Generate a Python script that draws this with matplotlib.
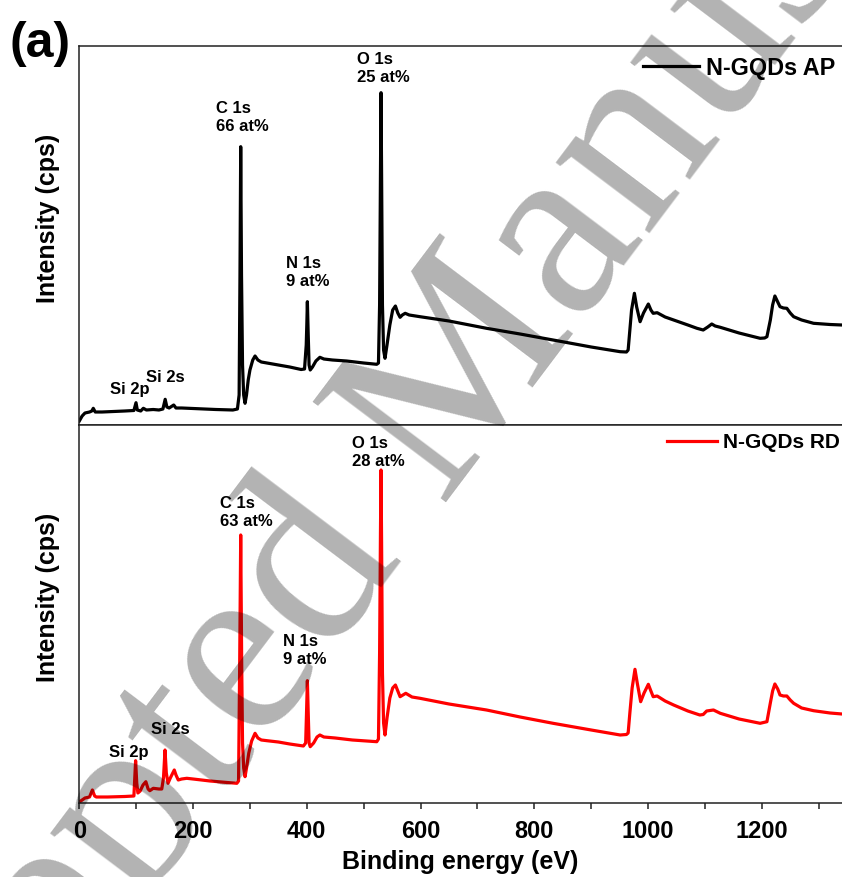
import matplotlib
matplotlib.use("Agg")
import matplotlib.pyplot as plt
from matplotlib.ticker import MultipleLocator

plt.rcParams['font.family'] = ['Liberation Sans', 'DejaVu Sans']
plt.rcParams['font.weight'] = 'bold'

# XPS survey spectrum, N-GQDs AP (binding energy in eV, intensity in arbitrary units)
ap_energy = [0, 5, 10, 18, 22, 24.6, 28, 40, 60, 80, 96, 99.7, 102, 108, 112.6, 118, 130, 140,
             147, 151, 154, 158, 166, 170, 180, 200, 240, 270, 278, 281, 282.5, 283.8, 285.2,
             287, 289, 291.4, 294, 297, 300, 305, 309, 314, 320, 330, 350, 370, 390, 396, 399,
             400, 401, 402.5, 404, 406, 410, 416, 423, 430, 445, 470, 500, 523, 526, 528, 529.5,
             530.5, 531.5, 533, 535, 537.5, 541, 546, 551, 555.8, 560, 564, 568, 573, 580, 599,
             650, 716, 775, 833, 900, 951, 962, 965, 968, 971, 976, 980, 986, 992, 1000.5, 1005,
             1009, 1016, 1030, 1045, 1070, 1086, 1097, 1105, 1112, 1118, 1127, 1160, 1197, 1205,
             1209, 1215, 1219, 1223, 1228, 1232, 1238, 1244, 1250, 1256, 1270, 1291, 1320, 1341]
ap_counts = [4, 9, 12, 13, 14, 16.7, 13, 13, 13.5, 14, 14.5, 22.3, 15, 14, 16.7, 15, 15.5, 15,
             16, 25.7, 18, 17, 20, 17, 17, 16.5, 15.5, 15, 16, 30, 150, 278.3, 150,
             60, 30, 21.7, 30, 45, 55, 65, 69, 65, 63, 62, 60, 58, 55.5, 56, 80,
             100, 123.3, 90, 60, 55, 58, 64, 67.7, 66, 65, 64, 62, 60.7, 62, 120, 250,
             332.3, 250, 120, 75, 66.7, 80, 100, 115, 119, 112, 107.7, 110, 111.7, 110, 108.3,
             104, 96.7, 91, 85, 78, 73.3, 73, 75, 95, 115, 131.7, 118, 103.3, 112, 121, 115,
             111.7, 112.3, 108, 105, 100, 96.7, 95, 98, 101, 99, 97.7, 92, 86.7, 87,
             88.3, 105, 120, 129, 123, 118.3, 117, 116.7, 112, 108.3, 105, 101.7, 100.5, 100]

# XPS survey spectrum, N-GQDs RD
rd_energy = [0, 5, 10, 18, 23, 27, 30, 50, 80, 96, 99, 101, 103, 107, 112, 117, 121, 124, 130,
             140, 145, 148, 150.7, 153, 156, 160, 167, 170, 174, 180, 189, 200, 230, 260, 277,
             280, 282, 283.8, 285.5, 287, 289, 291.4, 294, 298, 303, 309, 314, 320, 330, 350,
             370, 394, 398, 399.5, 401, 402.5, 404, 406, 412, 418, 423, 430, 450, 480, 523, 526,
             528, 529.5, 530.5, 531.5, 533, 535, 537.5, 541, 546, 551, 555.8, 560, 564, 569, 574,
             585, 599, 650, 716, 775, 833, 900, 951, 962, 965, 968, 972, 977, 981, 987, 993,
             1000.5, 1005, 1009, 1016, 1030, 1045, 1070, 1091, 1097, 1103, 1115, 1127, 1160,
             1197, 1209, 1215, 1219, 1223, 1228, 1232, 1238, 1244, 1250, 1256, 1270, 1291, 1320,
             1341]
rd_counts = [1, 3, 5, 6, 13, 7, 6, 6, 6.5, 7, 42.3, 20, 10, 12, 18, 21.3, 14, 12.3, 14.7,
             14, 14, 25, 53, 30, 19.7, 25, 33, 28, 23, 24, 24.7, 24, 22, 20.5, 19.7,
             22, 140, 268, 140, 60, 35, 26.3, 35, 50, 62, 69.7, 65, 63, 62.3, 61,
             59, 57, 60, 90, 122.3, 90, 60, 56.3, 60, 66, 68, 66, 65, 63, 61.3, 64,
             150, 270, 333, 260, 130, 80, 68, 85, 105, 115, 118, 112, 106.3, 108, 109.7,
             106, 104.7, 99, 93, 86, 79.7, 73, 68, 68.5, 70, 90, 115, 133.7, 120, 101.3, 110,
             118.7, 112, 106.3, 107, 102, 98, 92, 88, 88.5, 92, 93, 89.7, 84,
             79.7, 81.3, 100, 112, 119, 114, 108, 107, 107, 103, 99.7, 95, 92.3, 90,
             89]

# Peak labels: (text, energy of left edge, intensity of block centre)
ap_labels = [("C 1s\n66 at%", 240.4, 307.5), ("O 1s\n25 at%", 488.4, 356.5),
             ("N 1s\n9 at%", 363.5, 152.5), ("Si 2p", 54.0, 35.0), ("Si 2s", 117.4, 47.0)]
rd_labels = [("C 1s\n63 at%", 247.4, 290.0), ("O 1s\n28 at%", 479.5, 351.0),
             ("N 1s\n9 at%", 358.2, 152.0), ("Si 2p", 52.8, 50.7), ("Si 2s", 126.0, 73.0)]

xmax = 1341
W, H = 842, 877
fig = plt.figure(figsize=(W / 100, H / 100), dpi=100)

left = 79.3 / W
ax_top = fig.add_axes([left, 1 - 425 / H, 1 - left, (425 - 46) / H])
ax_bot = fig.add_axes([left, 1 - 803 / H, 1 - left, (803 - 425) / H])

panels = [
    (ax_top, ap_energy, ap_counts, 'black', 'N-GQDs AP', ap_labels, 379),
    (ax_bot, rd_energy, rd_counts, '#ff0000', 'N-GQDs RD', rd_labels, 378),
]

for ax, e, c, col, name, labels, ytop in panels:
    ax.plot(e, c, color=col, lw=2.3, label=name, solid_joinstyle='round')
    ax.set_xlim(0, xmax)
    ax.set_ylim(0, ytop)
    ax.spines['right'].set_visible(False)
    for s in ('left', 'top', 'bottom'):
        ax.spines[s].set_linewidth(1.1)
        ax.spines[s].set_color('#222222')
    ax.set_yticks([])
    for txt, x, y in labels:
        ax.text(x, y, txt, ha='left', va='center', fontsize=12, fontweight='bold',
                linespacing=1.25)
    ax.set_ylabel('Intensity (cps)', fontsize=18, fontweight='bold', va='center')
    ax.yaxis.set_label_coords(-0.041, 0.544)

ax_top.tick_params(axis='x', bottom=False, labelbottom=False)
ax_bot.xaxis.set_major_locator(MultipleLocator(200))
ax_bot.xaxis.set_minor_locator(MultipleLocator(100))
ax_bot.tick_params(axis='x', which='both', direction='out', length=4, width=1.1,
                   labelsize=17, pad=8, color='#222222')
for lab in ax_bot.get_xticklabels():
    lab.set_fontweight('bold')
ax_bot.set_xlabel('Binding energy (eV)', fontsize=18, fontweight='bold', labelpad=5)

leg_kw = dict(frameon=False, handletextpad=0.3, borderpad=0, borderaxespad=0,
              loc='center left', bbox_transform=fig.transFigure)
ax_top.legend(bbox_to_anchor=(643 / W, 1 - 68 / H), fontsize=16.8, handlelength=2.4, **leg_kw)
ax_bot.legend(bbox_to_anchor=(667 / W, 1 - 443 / H), fontsize=15, handlelength=2.4, **leg_kw)
for lg in (ax_top.get_legend(), ax_bot.get_legend()):
    for t in lg.get_texts():
        t.set_fontweight('bold')
    for h in lg.get_lines():
        h.set_linewidth(2.3)

fig.text(10 / W, 1 - 44 / H, '(a)', fontsize=36, fontweight='bold', ha='left', va='center')

# Journal watermark
fig.text(0.5154, 0.5245, 'Accepted Manuscript', fontsize=183, family='Liberation Serif',
         fontweight='normal', color='black', alpha=0.3, rotation=53,
         ha='center', va='center', zorder=20)

fig.savefig('out.png', dpi=100)
